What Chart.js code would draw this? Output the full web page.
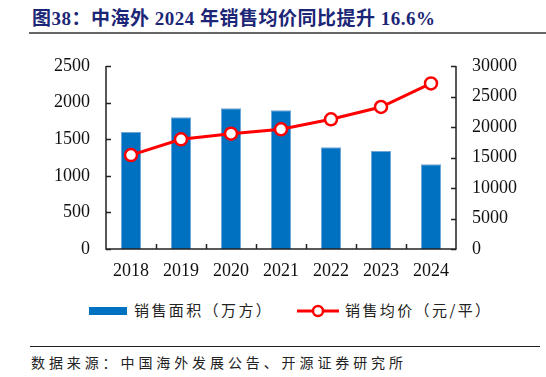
<!DOCTYPE html>
<html>
<head>
<meta charset="utf-8">
<script src="https://cdn.jsdelivr.net/npm/chart.js@4.4.1/dist/chart.umd.min.js"></script>
<style>
  body { margin: 0; width: 546px; height: 377px; background: #fff; position: relative; overflow: hidden; font-family: "Noto Sans CJK SC", sans-serif; }
  #title { position: absolute; left: 32px; top: 3px; font-size: 19px; font-weight: bold; color: #1c2676; font-family: "Liberation Serif", "Noto Sans CJK SC", serif; white-space: nowrap; letter-spacing: 0.5px; }
  #titleLine { position: absolute; left: 29px; top: 32px; width: 517px; height: 2px; background: #666; }
  #wrap { position: absolute; left: 0; top: 0; width: 546px; height: 290px; }
  #legend { position: absolute; top: 299px; left: 0; width: 546px; height: 22px; font-size: 15px; color: #222; }
  .item { position: absolute; top: 0; white-space: nowrap; letter-spacing: 2.4px; line-height: 22px; }
  #srcLine { position: absolute; left: 30px; top: 346px; width: 510px; height: 1px; background: #222; }
  #source { position: absolute; left: 31px; top: 352px; font-size: 14px; color: #222; letter-spacing: 3.9px; white-space: nowrap; }
</style>
</head>
<body>
<div id="title">图38：中海外 2024 年销售均价同比提升 16.6%</div>
<div id="titleLine"></div>
<div id="wrap"><canvas id="myChart" width="546" height="290"></canvas></div>
<div id="legend">
  <div class="item" style="left:89px;"><span style="display:inline-block;width:38px;height:8px;background:#0070c0;vertical-align:middle;margin-right:7px;position:relative;top:-1px"></span>销售面积（万方）</div>
  <div class="item" style="left:297px;"><canvas id="lineKey" width="42" height="14" style="vertical-align:middle;margin-right:6px;position:relative;top:-1px"></canvas>销售均价（元/平）</div>
</div>
<div id="srcLine"></div>
<div id="source">数据来源：中国海外发展公告、开源证券研究所</div>
<script>
// categories and values
var years = ['2018', '2019', '2020', '2021', '2022', '2023', '2024']
var salesArea = [1600, 1800, 1922, 1895, 1390, 1340, 1157]
var avgPrice = [15400, 17980, 18900, 19620, 21260, 23280, 27150]
var leftTicks = [0, 500, 1000, 1500, 2000, 2500]
var rightTicks = [0, 5000, 10000, 15000, 20000, 25000, 30000]

var axisFont = { family: 'Liberation Serif', size: 18 }

// small inward tick marks like the original
var innerTicks = {
  id: 'innerTicks',
  afterDraw: function (chart) {
    var c = chart.ctx
    var area = chart.chartArea
    var yl = chart.scales.y
    var yr = chart.scales.y1
    var x = chart.scales.x
    c.save()
    c.strokeStyle = '#222'
    c.lineWidth = 1.5
    c.beginPath()
    c.moveTo(area.left, area.top)
    c.lineTo(area.left, area.bottom)
    c.lineTo(area.right, area.bottom)
    c.lineTo(area.right, area.top)
    leftTicks.forEach(function (v) {
      var py = Math.round(yl.getPixelForValue(v)) + 0.5
      c.moveTo(area.left, py)
      c.lineTo(area.left + 5, py)
    })
    rightTicks.forEach(function (v) {
      var py = Math.round(yr.getPixelForValue(v)) + 0.5
      c.moveTo(area.right, py)
      c.lineTo(area.right - 5, py)
    })
    for (var i = 1; i < years.length; i++) {
      var px = Math.round((x.getPixelForValue(i - 1) + x.getPixelForValue(i)) / 2) + 0.5
      c.moveTo(px, area.bottom)
      c.lineTo(px, area.bottom - 5)
    }
    c.stroke()
    c.restore()
  }
}

function plain (v) { return String(v) }

var ctx = document.getElementById('myChart')
var myChart = new Chart(ctx, {
  type: 'bar',
  data: {
    labels: years,
    datasets: [{
      type: 'line',
      label: '销售均价（元/平）',
      data: avgPrice,
      yAxisID: 'y1',
      borderColor: '#ff0000',
      borderWidth: 3,
      pointRadius: 6,
      pointBackgroundColor: '#ffffff',
      pointBorderColor: '#ff0000',
      pointBorderWidth: 2.5,
      tension: 0,
      order: 0
    }, {
      label: '销售面积（万方）',
      data: salesArea,
      yAxisID: 'y',
      backgroundColor: '#0070c0',
      borderColor: '#6fa6d8',
      borderWidth: { left: 1, right: 1, top: 1, bottom: 0 },
      barPercentage: 0.4,
      categoryPercentage: 1,
      order: 1
    }]
  },
  options: {
    responsive: false,
    animation: false,
    layout: { padding: { top: 66, left: 0, right: 0, bottom: 0 } },
    plugins: { legend: { display: false }, tooltip: { enabled: false } },
    scales: {
      x: {
        grid: { display: false, drawTicks: false },
        border: { display: false },
        ticks: { color: '#111', font: axisFont, padding: 11 },
        afterFit: function (s) { s.height = 41 }
      },
      y: {
        position: 'left',
        min: 0,
        max: 2500,
        grid: { display: false, drawTicks: false },
        border: { display: false },
        ticks: { stepSize: 500, color: '#111', font: axisFont, padding: 16, callback: plain },
        afterFit: function (s) { s.width = 106 }
      },
      y1: {
        position: 'right',
        min: 0,
        max: 30000,
        grid: { display: false, drawTicks: false },
        border: { display: false },
        ticks: { stepSize: 5000, color: '#111', font: axisFont, padding: 16, callback: plain },
        afterFit: function (s) { s.width = 90 }
      }
    }
  },
  plugins: [innerTicks]
})

// legend key for the line series
var k = document.getElementById('lineKey').getContext('2d')
k.strokeStyle = '#ff0000'
k.lineWidth = 3
k.beginPath()
k.moveTo(0, 7)
k.lineTo(42, 7)
k.stroke()
k.beginPath()
k.arc(21, 7, 5, 0, Math.PI * 2)
k.fillStyle = '#fff'
k.fill()
k.lineWidth = 2.5
k.stroke()
</script>
</body>
</html>
